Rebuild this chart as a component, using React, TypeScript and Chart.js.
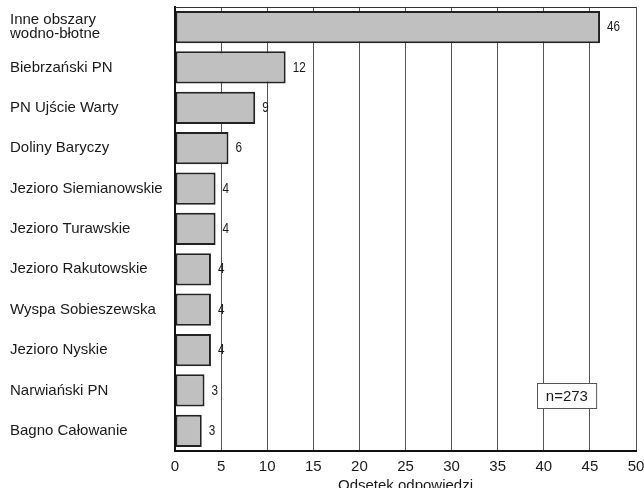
import { useEffect, useRef } from "react";
import { Chart, registerables } from "chart.js";

Chart.register(...registerables);

const categories: (string | string[])[] = [
  ["Inne obszary", "wodno-błotne"],
  "Biebrzański PN",
  "PN Ujście Warty",
  "Doliny Baryczy",
  "Jezioro Siemianowskie",
  "Jezioro Turawskie",
  "Jezioro Rakutowskie",
  "Wyspa Sobieszewska",
  "Jezioro Nyskie",
  "Narwiański PN",
  "Bagno Całowanie",
];

const shares = [46.1, 12.0, 8.7, 5.8, 4.4, 4.4, 3.9, 3.9, 3.9, 3.2, 2.9];

const axisTitle = "Odsetek odpowiedzi";
const sampleNote = "n=273";
const xMin = 0;
const xMax = 50;
const xStep = 5;

const NOTE_X = 42.5;
const NOTE_Y = 9.13;

const SANS = "'Liberation Sans', Arial, Helvetica, sans-serif";

const topBorderPlugin = {
  id: "topBorder",
  beforeDatasetsDraw(chart: any) {
    const { ctx, chartArea } = chart;
    ctx.save();
    ctx.strokeStyle = "#333";
    ctx.lineWidth = 1;
    ctx.beginPath();
    ctx.moveTo(chartArea.left, Math.round(chartArea.top) + 0.5);
    ctx.lineTo(chartArea.right, Math.round(chartArea.top) + 0.5);
    ctx.stroke();
    ctx.restore();
  },
};

const valueLabelPlugin = {
  id: "valueLabels",
  afterDatasetsDraw(chart: any) {
    const { ctx } = chart;
    const meta = chart.getDatasetMeta(0);
    ctx.save();
    ctx.font = `15px ${SANS}`;
    ctx.fillStyle = "#1a1a1a";
    ctx.textAlign = "left";
    ctx.textBaseline = "middle";
    meta.data.forEach((bar: any, i: number) => {
      ctx.save();
      ctx.translate(bar.x + 7, bar.y);
      ctx.scale(0.78, 1);
      ctx.fillText(String(Math.round(shares[i])), 0, 0);
      ctx.restore();
    });
    ctx.restore();
  },
};

const notePlugin = {
  id: "sampleNote",
  afterDatasetsDraw(chart: any) {
    const { ctx, scales } = chart;
    const cx = scales.x.getPixelForValue(NOTE_X);
    const cy = scales.y.getPixelForValue(NOTE_Y);
    ctx.save();
    ctx.font = `15px ${SANS}`;
    const w = ctx.measureText(sampleNote).width + 17;
    const h = 25;
    const x0 = Math.round(cx - w / 2) + 0.5;
    const y0 = Math.round(cy - h / 2) + 0.5;
    ctx.fillStyle = "#ffffff";
    ctx.fillRect(x0, y0, w, h);
    ctx.strokeStyle = "#555";
    ctx.lineWidth = 1;
    ctx.strokeRect(x0, y0, w, h);
    ctx.fillStyle = "#1a1a1a";
    ctx.textAlign = "center";
    ctx.textBaseline = "middle";
    ctx.fillText(sampleNote, cx, cy + 1);
    ctx.restore();
  },
};

export default function App() {
  const canvasRef = useRef<HTMLCanvasElement | null>(null);

  useEffect(() => {
    document.body.style.margin = "0";
    const canvas = canvasRef.current;
    if (!canvas) return;
    const chart = new Chart(canvas, {
      type: "bar",
      data: {
        labels: categories,
        datasets: [
          {
            data: shares,
            backgroundColor: "#c0c0c0",
            borderColor: "#222222",
            borderWidth: 2,
            borderSkipped: false,
            barPercentage: 0.8,
            categoryPercentage: 1,
          },
        ],
      },
      options: {
        indexAxis: "y",
        animation: false,
        responsive: true,
        maintainAspectRatio: false,
        layout: { padding: { top: 5, right: 0, left: 10, bottom: 0 } },
        plugins: {
          legend: { display: false },
          tooltip: { enabled: false },
        },
        scales: {
          x: {
            type: "linear",
            min: xMin,
            max: xMax,
            ticks: {
              stepSize: xStep,
              color: "#1a1a1a",
              font: { family: SANS, size: 15 },
              padding: 7,
            },
            grid: { color: "#555555", lineWidth: 1, drawTicks: false },
            border: { color: "#111111", width: 2 },
            title: {
              display: true,
              text: axisTitle,
              color: "#1a1a1a",
              font: { family: SANS, size: 15 },
              padding: { top: 0, bottom: 5 },
            },
            afterFit(scale: any) {
              scale.height = 49;
              scale.paddingRight = 8;
            },
          },
          y: {
            type: "category",
            ticks: {
              color: "#1a1a1a",
              crossAlign: "far",
              font: { family: SANS, size: 15, lineHeight: 0.92 },
              padding: 0,
            },
            grid: { drawOnChartArea: false, drawTicks: false },
            border: { color: "#111111", width: 2 },
            afterFit(scale: any) {
              scale.width = 165;
            },
          },
        },
      },
      plugins: [topBorderPlugin, valueLabelPlugin, notePlugin],
    });
    return () => chart.destroy();
  }, []);

  return (
    <div
      style={{
        position: "fixed",
        left: 0,
        top: 0,
        width: 644,
        height: 488,
        overflow: "hidden",
        background: "#ffffff",
      }}
    >
      <div style={{ position: "relative", width: 644, height: 500 }}>
        <canvas ref={canvasRef} />
      </div>
    </div>
  );
}
